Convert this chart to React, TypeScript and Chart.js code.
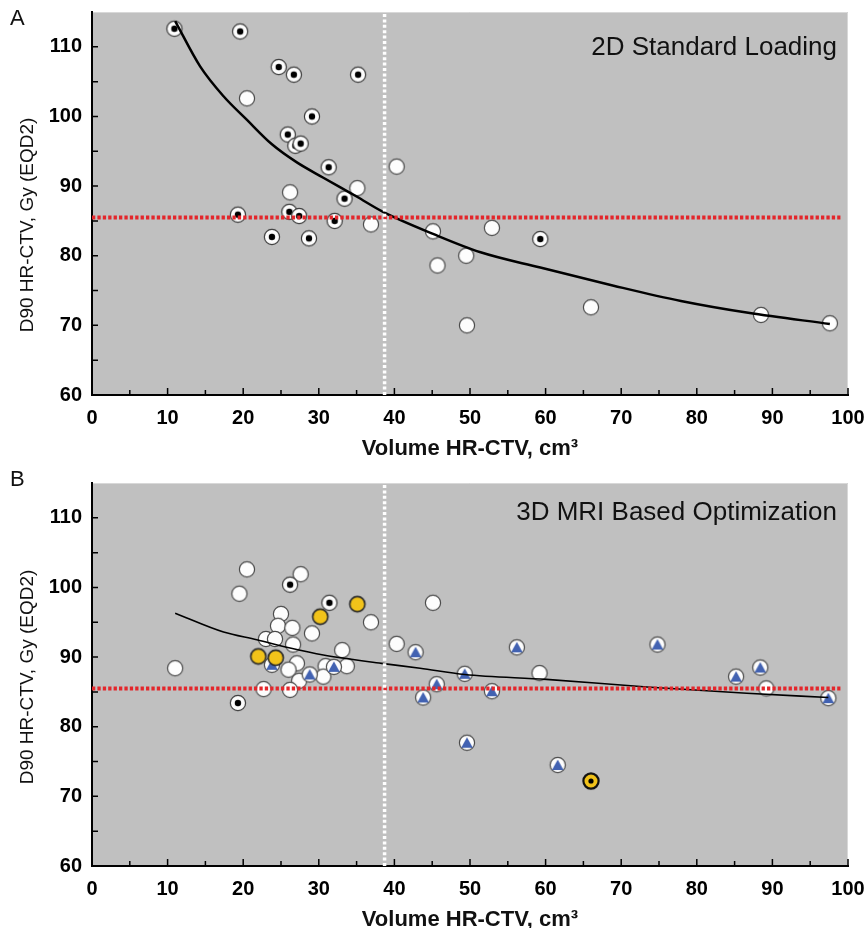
import React, { useEffect, useRef } from "react";
import { Chart, registerables } from "chart.js";

Chart.register(...registerables);

const FONT = "'Liberation Sans', Arial, Helvetica, sans-serif";

// ---------- Panel A: 2D Standard Loading ----------
const aOpenX = [20.5, 40.3, 35.1, 26.2, 36.9, 45.1, 45.7, 49.5, 49.6, 52.9, 66.0, 88.5, 97.6];
const aOpenY = [102.6, 92.8, 89.7, 89.1, 84.5, 83.5, 78.6, 80.0, 70.0, 84.0, 72.6, 71.5, 70.3];
const aDotX = [10.9, 19.6, 24.7, 26.7, 35.2, 29.1, 25.9, 26.9, 27.6, 31.3, 33.4, 19.3, 26.1, 27.4, 32.1, 23.8, 28.7, 59.3];
const aDotY = [112.6, 112.2, 107.1, 106.0, 106.0, 100.0, 97.4, 95.8, 96.1, 92.7, 88.2, 85.9, 86.3, 85.7, 85.0, 82.7, 82.5, 82.4];
const aFitX = [11.0, 14.3, 17.4, 20.5, 23.8, 27.1, 30.6, 35.0, 38.5, 45.2, 51.4, 59.3, 69.0, 77.9, 86.8, 97.6];
const aFitY = [113.7, 107.2, 102.9, 99.5, 96.0, 93.4, 91.2, 88.5, 86.3, 83.1, 80.5, 78.3, 75.7, 73.5, 71.8, 70.2];

// ---------- Panel B: 3D MRI Based Optimization ----------
const bOpenX = [20.5, 19.5, 27.6, 36.9, 25.0, 24.6, 26.5, 29.1, 23.0, 24.2, 26.6, 33.1, 40.3, 27.1, 26.0, 30.9, 33.7, 30.6, 27.4, 11.0, 22.7, 26.2, 45.1, 59.2, 89.2];
const bOpenY = [102.6, 99.1, 101.9, 95.0, 96.2, 94.5, 94.2, 93.4, 92.6, 92.6, 91.8, 91.0, 91.9, 89.1, 88.2, 88.7, 88.7, 87.2, 86.6, 88.4, 85.4, 85.3, 97.8, 87.7, 85.5];
const bDotX = [26.2, 31.4, 19.3];
const bDotY = [100.4, 97.8, 83.4];
const bTriX = [23.8, 32.0, 28.8, 42.8, 56.2, 74.8, 49.3, 45.6, 43.8, 52.9, 85.2, 88.4, 97.4, 49.6, 61.6];
const bTriY = [88.9, 88.6, 87.5, 90.7, 91.4, 91.8, 87.6, 86.1, 84.2, 85.1, 87.2, 88.5, 84.1, 77.7, 74.5];
const bYellowX = [35.1, 30.2, 22.0, 24.3];
const bYellowY = [97.6, 95.8, 90.1, 89.9];
const bYellowDotX = [66.0];
const bYellowDotY = [72.2];
const bFitX = [11.0, 17.4, 21.8, 26.2, 30.6, 38.3, 43.4, 49.3, 60.1, 73.4, 86.6, 97.4];
const bFitY = [96.3, 93.6, 92.5, 91.3, 90.3, 89.1, 88.4, 87.5, 86.8, 85.7, 84.8, 84.2];

// ---------- Reference lines ----------
const doseLineX = [0, 99];
const doseLineY = [85.5, 85.5];
const volumeLineX = [38.7, 38.7];
const volumeLineY = [60, 115];

// ---------- Axes ----------
const xTickLabels = ["0", "10", "20", "30", "40", "50", "60", "70", "80", "90", "100"];
const yTickLabels = ["60", "70", "80", "90", "100", "110"];
const xTitle = "Volume HR-CTV, cm\u00B3";
const yTitle = "D90 HR-CTV, Gy (EQD2)";

const pts = (xs: number[], ys: number[]) => xs.map((x, i) => ({ x, y: ys[i] }));

function marker(fill: string, stroke: string, lw: number, inner: "none" | "dot" | "tri", dotR = 3.2) {
  const s = 20;
  const c = document.createElement("canvas");
  c.width = s;
  c.height = s;
  const g = c.getContext("2d")!;
  const m = s / 2;
  g.beginPath();
  g.arc(m, m, 7.6, 0, Math.PI * 2);
  g.fillStyle = fill;
  g.fill();
  g.lineWidth = lw;
  g.strokeStyle = stroke;
  g.stroke();
  if (inner === "dot") {
    g.beginPath();
    g.arc(m, m, dotR, 0, Math.PI * 2);
    g.fillStyle = "#000";
    g.fill();
  } else if (inner === "tri") {
    g.beginPath();
    g.moveTo(m, m - 5.5);
    g.lineTo(m + 5.8, m + 4.9);
    g.lineTo(m - 5.8, m + 4.9);
    g.closePath();
    g.fillStyle = "#4262b2";
    g.fill();
  }
  return c;
}

const decorPlugin = {
  id: "panelDecor",
  beforeDraw(chart: any) {
    const { ctx, chartArea: a } = chart;
    ctx.save();
    ctx.fillStyle = "#c0c0c0";
    ctx.fillRect(a.left, a.top, a.right - a.left, a.bottom - a.top);
    ctx.strokeStyle = "#d8d8d8";
    ctx.lineWidth = 1;
    ctx.beginPath();
    ctx.moveTo(a.left, a.top + 0.5);
    ctx.lineTo(a.right - 0.5, a.top + 0.5);
    ctx.lineTo(a.right - 0.5, a.bottom);
    ctx.stroke();
    ctx.restore();
  },
  afterDraw(chart: any, _args: any, opts: any) {
    const { ctx, chartArea: a, scales } = chart;
    const xs = scales.x;
    const ys = scales.y;
    ctx.save();
    ctx.strokeStyle = "#000";
    ctx.lineWidth = 1.5;
    ctx.beginPath();
    xs.ticks.forEach((t: any) => {
      if (t.value <= 0) return;
      const px = xs.getPixelForValue(t.value);
      const len = t.value % 10 === 0 ? 7 : 5;
      ctx.moveTo(px, a.bottom);
      ctx.lineTo(px, a.bottom - len);
    });
    ys.ticks.forEach((t: any) => {
      if (t.value <= 60 || t.value > 110) return;
      const py = ys.getPixelForValue(t.value);
      ctx.moveTo(a.left, py);
      ctx.lineTo(a.left + 6, py);
    });
    ctx.stroke();

    ctx.fillStyle = "#111";
    ctx.textBaseline = "alphabetic";
    ctx.textAlign = "left";
    ctx.font = `22px ${FONT}`;
    ctx.fillText(opts.letter, 10, opts.letterBaseline);

    ctx.textAlign = "right";
    ctx.font = `26px ${FONT}`;
    ctx.fillText(opts.title, 837, opts.titleBaseline);

    ctx.textAlign = "center";
    ctx.font = `bold 22px ${FONT}`;
    ctx.fillText(xTitle, (a.left + a.right) / 2, opts.xTitleBaseline);

    ctx.translate(28, opts.yTitleCenter);
    ctx.rotate(-Math.PI / 2);
    ctx.font = `19px ${FONT}`;
    ctx.textBaseline = "middle";
    ctx.fillText(yTitle, 0, 0);
    ctx.restore();
  },
};

function makeConfig(datasets: any[], padTop: number, xAxisH: number, decor: any) {
  const tickFont = { family: FONT, size: 20, weight: "bold" as const };
  return {
    type: "scatter" as const,
    data: { datasets },
    plugins: [decorPlugin],
    options: {
      animation: false as const,
      responsive: false,
      devicePixelRatio: 1,
      events: [],
      layout: { padding: { top: padTop, right: 20, left: 0, bottom: 0 } },
      plugins: {
        legend: { display: false },
        tooltip: { enabled: false },
        panelDecor: decor,
      },
      scales: {
        x: {
          type: "linear" as const,
          min: 0,
          max: 100,
          afterFit: (s: any) => {
            s.height = xAxisH;
            s.paddingLeft = 0;
            s.paddingRight = 0;
          },
          grid: { display: false, drawTicks: false },
          border: { display: true, color: "#000", width: 2 },
          ticks: {
            stepSize: 5,
            autoSkip: false,
            maxRotation: 0,
            padding: 11,
            color: "#000",
            font: tickFont,
            callback: (v: any) => {
              const i = xTickLabels.indexOf(String(v));
              return i >= 0 ? xTickLabels[i] : "";
            },
          },
        },
        y: {
          type: "linear" as const,
          min: 60,
          max: 115,
          afterFit: (s: any) => {
            s.width = 92;
            s.paddingTop = 0;
            s.paddingBottom = 0;
          },
          grid: { display: false, drawTicks: false },
          border: { display: true, color: "#000", width: 2 },
          ticks: {
            stepSize: 5,
            autoSkip: false,
            padding: 10,
            color: "#000",
            font: tickFont,
            callback: (v: any) => {
              const i = yTickLabels.indexOf(String(v));
              return i >= 0 ? yTickLabels[i] : "";
            },
          },
        },
      },
    },
  };
}

function refLines() {
  return [
    {
      data: pts(volumeLineX, volumeLineY),
      showLine: true,
      pointRadius: 0,
      borderColor: "#ffffff",
      borderWidth: 3.5,
      borderDash: [3, 2.4],
      borderCapStyle: "butt",
      order: 0,
    },
    {
      data: pts(doseLineX, doseLineY),
      showLine: true,
      pointRadius: 0,
      borderColor: "#e3262b",
      borderWidth: 4,
      borderDash: [3.3, 2.1],
      borderCapStyle: "butt",
      order: 1,
    },
  ];
}

function fitLine(xs: number[], ys: number[], w: number) {
  return {
    data: pts(xs, ys),
    showLine: true,
    pointRadius: 0,
    borderColor: "#000",
    borderWidth: w,
    tension: 0.4,
    cubicInterpolationMode: "monotone",
    order: 2,
  };
}

function markerSet(xs: number[], ys: number[], img: HTMLCanvasElement, order: number) {
  return {
    data: pts(xs, ys),
    pointStyle: img,
    pointRadius: 8,
    order,
  };
}

export default function App() {
  const refA = useRef<HTMLCanvasElement>(null);
  const refB = useRef<HTMLCanvasElement>(null);

  useEffect(() => {
    const open = marker("#fdfdfd", "#4a4a4a", 1.2, "none");
    const dot = marker("#fdfdfd", "#3a3a3a", 1.2, "dot");
    const tri = marker("#fdfdfd", "#4a4a4a", 1.2, "tri");
    const yellow = marker("#f2c31a", "#2a2a2a", 1.6, "none");
    const yellowDot = marker("#f2c31a", "#111", 2.2, "dot", 2.6);

    const dsA = [
      ...refLines(),
      fitLine(aFitX, aFitY, 2.5),
      markerSet(aDotX, aDotY, dot, 4),
      markerSet(aOpenX, aOpenY, open, 6),
    ];
    const dsB = [
      ...refLines(),
      fitLine(bFitX, bFitY, 1.6),
      markerSet(bYellowDotX, bYellowDotY, yellowDot, 3),
      markerSet(bYellowX, bYellowY, yellow, 3),
      markerSet(bDotX, bDotY, dot, 4),
      markerSet(bTriX, bTriY, tri, 5),
      markerSet(bOpenX, bOpenY, open, 6),
    ];

    const chartA = new Chart(
      refA.current!,
      makeConfig(dsA, 12, 69, {
        letter: "A",
        letterBaseline: 25,
        title: "2D Standard Loading",
        titleBaseline: 55,
        xTitleBaseline: 455,
        yTitleCenter: 225,
      }) as any
    );
    const chartB = new Chart(
      refB.current!,
      makeConfig(dsB, 19, 62, {
        letter: "B",
        letterBaseline: 22,
        title: "3D MRI Based Optimization",
        titleBaseline: 56,
        xTitleBaseline: 462,
        yTitleCenter: 213,
      }) as any
    );
    return () => {
      chartA.destroy();
      chartB.destroy();
    };
  }, []);

  return (
    <div style={{ position: "absolute", left: 0, top: 0, width: 868, height: 928, background: "#fff", overflow: "hidden" }}>
      <canvas ref={refA} width={868} height={464} style={{ position: "absolute", left: 0, top: 0, display: "block" }} />
      <canvas ref={refB} width={868} height={464} style={{ position: "absolute", left: 0, top: 464, display: "block" }} />
    </div>
  );
}
